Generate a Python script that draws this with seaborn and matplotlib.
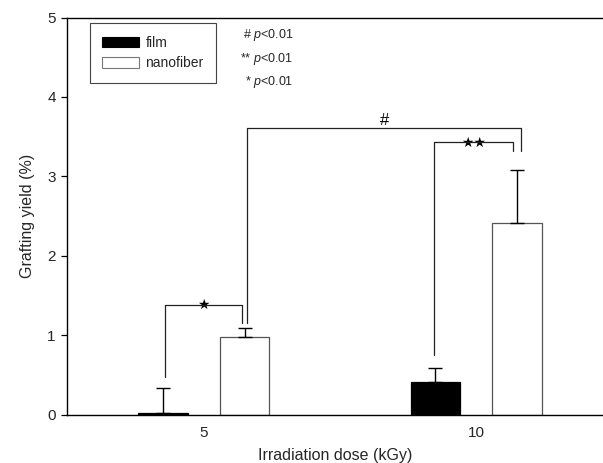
import numpy as np
import pandas as pd
import matplotlib
matplotlib.use("Agg")
import matplotlib.pyplot as plt
import seaborn as sns
from matplotlib.patches import Patch

# Grafting yield by irradiation dose for film and nanofiber substrates
doses = ["5", "10"]
materials = ["film", "nanofiber"]
film_yield = [0.03, 0.41]
film_err = [0.31, 0.18]
nanofiber_yield = [0.98, 2.42]
nanofiber_err = [0.11, 0.66]
p_labels = ["# $p$<0.01", "** $p$<0.01", "* $p$<0.01"]

df = pd.DataFrame({
    "dose": doses * 2,
    "material": ["film"] * 2 + ["nanofiber"] * 2,
    "yield": film_yield + nanofiber_yield,
})
errors = {"film": film_err, "nanofiber": nanofiber_err}

sns.set_style("ticks")
plt.rcParams["font.family"] = ["Liberation Sans", "DejaVu Sans"]
plt.rcParams["mathtext.fontset"] = "custom"
plt.rcParams["mathtext.it"] = "Liberation Sans:italic"

fig = plt.figure(figsize=(6.03, 4.63), dpi=100)
ax = fig.add_axes([0.111, 0.1037, 0.889, 0.8585])

sns.barplot(data=df, x="dose", y="yield", hue="material", order=doses,
            hue_order=materials, palette={"film": "black", "nanofiber": "white"},
            width=0.6, gap=0.39, errorbar=None, ax=ax, legend=False)

# bar outlines and upward-only error bars
centers = {}
for mat, cont in zip(materials, ax.containers):
    for i, bar in enumerate(cont):
        bar.set_edgecolor("black" if mat == "film" else "#555555")
        bar.set_linewidth(0.9)
        cx = bar.get_x() + bar.get_width() / 2
        h = bar.get_height()
        centers[(mat, doses[i])] = (cx, h)
        ax.errorbar(cx, h, yerr=[[0], [errors[mat][i]]], fmt="none",
                    ecolor="black", elinewidth=1.0, capsize=5, capthick=1.0,
                    zorder=3)

ax.set_ylim(0, 5)
ax.set_xlim(-0.501, 1.464)
ax.set_yticks([0, 1, 2, 3, 4, 5])
ax.tick_params(axis="y", direction="out", length=4, width=0.9, labelsize=11,
               pad=4, color="black")
ax.tick_params(axis="x", length=0, labelsize=11, pad=8)
for s in ["left", "top", "bottom"]:
    ax.spines[s].set_color("black")
    ax.spines[s].set_linewidth(1.0)
ax.spines["right"].set_visible(False)
ax.set_xlabel("Irradiation dose (kGy)", fontsize=11.5, labelpad=6)
ax.set_ylabel("Grafting yield (%)", fontsize=11.5, labelpad=9)


def bracket(x0, y0, x1, y1, top, label, fs, dy=0.0, fam=None):
    ax.plot([x0, x0, x1, x1], [y0, top, top, y1], color="#222222", lw=0.9,
            zorder=4)
    kw = {"family": fam} if fam else {}
    ax.text((x0 + x1) / 2, top + dy, label, ha="center", va="bottom",
            fontsize=fs, color="black", **kw)


f5 = centers[("film", "5")][0]
n5 = centers[("nanofiber", "5")][0]
f10 = centers[("film", "10")][0]
n10 = centers[("nanofiber", "10")][0]

bracket(f5 + 0.01, 0.48, n5 - 0.01, 1.16, 1.38, "★", 10, dy=-0.09,
        fam="DejaVu Sans")
bracket(n5 + 0.01, 1.16, n10 + 0.015, 3.32, 3.61, "#", 12, dy=0.0)
bracket(f10 - 0.005, 0.75, n10 - 0.015, 3.32, 3.43, "★★", 10, dy=-0.09,
        fam="DejaVu Sans")

# significance key
for k, txt in enumerate(p_labels):
    ax.text(0.422, 0.955 - k * 0.059, txt, transform=ax.transAxes,
            ha="right", va="center", fontsize=9)

# legend
handles = [Patch(facecolor="black", edgecolor="black", lw=0.8),
           Patch(facecolor="white", edgecolor="#777777", lw=0.8)]
leg = ax.legend(handles, materials, loc="upper left",
                bbox_to_anchor=(0.043, 0.985), fontsize=10, frameon=True,
                fancybox=False, framealpha=1, edgecolor="#444444",
                handlelength=2.6, handleheight=0.8, handletextpad=0.5,
                borderpad=0.9, labelspacing=0.45, borderaxespad=0)
leg.get_frame().set_linewidth(0.8)

fig.savefig("out.png", dpi=100)
